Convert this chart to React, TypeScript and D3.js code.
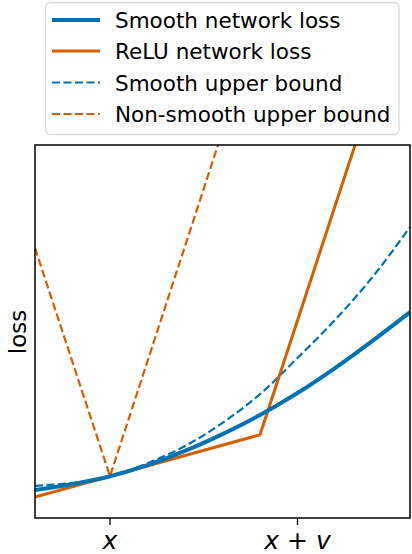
import React from "react";
import * as d3 from "d3";

// x positions (0 = x, 1 = x + v)
const tGrid = [-0.4, 0, 0.2, 0.4, 0.6, 0.8, 1.0, 1.2, 1.4, 1.6];
const smoothLoss = [0.075, 0.112, 0.142, 0.18, 0.225, 0.276, 0.335, 0.402, 0.475, 0.552];
const smoothBound = [0.086, 0.112, 0.147, 0.193, 0.255, 0.332, 0.429, 0.531, 0.646, 0.78];
const reluX = [-0.4, 0.8, 1.307];
const reluLoss = [0.056, 0.223, 1.0];
const nsBoundX = [-0.4, 0, 0.576];
const nsBoundLoss = [0.724, 0.112, 1.0];
const tickValues = [0, 1];
const tickLabels = [["x"], ["x", " + ", "v"]];
const legendLabels = [
  "Smooth network loss",
  "ReLU network loss",
  "Smooth upper bound",
  "Non-smooth upper bound",
];

const BLUE = "#0072B2";
const ORANGE = "#D55E00";

export default function App() {
  const W = 412, H = 554;
  const left = 35, right = 410, top = 145, bottom = 518;
  const x = d3.scaleLinear().domain([-0.4, 1.6]).range([left, right]);
  const y = d3.scaleLinear().domain([0, 1]).range([bottom, top]);
  const smoothLine = d3.line<number>().x((_, i) => x(tGrid[i])).y((d) => y(d)).curve(d3.curveMonotoneX);
  const polyLine = (xs: number[]) => d3.line<number>().x((_, i) => x(xs[i])).y((d) => y(d));

  const series = [
    { d: smoothLine(smoothLoss), color: BLUE, w: 4, dash: undefined },
    { d: polyLine(reluX)(reluLoss), color: ORANGE, w: 3, dash: undefined },
    { d: smoothLine(smoothBound), color: BLUE, w: 2.2, dash: "8,3.5" },
    { d: polyLine(nsBoundX)(nsBoundLoss), color: ORANGE, w: 2.2, dash: "8,3.5" },
  ];
  const drawOrder = [2, 3, 1, 0];
  const font = "DejaVu Sans, sans-serif";
  const rowY = [20, 51, 82.5, 114];

  return (
    <svg width={W} height={H} style={{ position: "absolute", left: 0, top: 0 }}>
      <defs>
        <clipPath id="plotclip">
          <rect x={left} y={top} width={right - left} height={bottom - top} />
        </clipPath>
      </defs>
      <rect x={0} y={0} width={W} height={H} fill="#fff" />
      <g clipPath="url(#plotclip)">
        {drawOrder.map((i) => (
          <path
            key={i}
            d={series[i].d || ""}
            fill="none"
            stroke={series[i].color}
            strokeWidth={series[i].w}
            strokeDasharray={series[i].dash}
            strokeLinejoin="round"
          />
        ))}
      </g>
      <rect x={left} y={top} width={right - left} height={bottom - top} fill="none" stroke="#000" strokeWidth={1.5} />
      {tickValues.map((t, i) => (
        <g key={i}>
          <line x1={x(t)} x2={x(t)} y1={bottom} y2={bottom + 7} stroke="#000" strokeWidth={1.3} />
          <text x={x(t)} y={549} textAnchor="middle" fontFamily={font} fontSize={25} xmlSpace="preserve">
            {tickLabels[i].map((p, j) => (
              <tspan key={j} fontStyle={p.trim() === "+" ? "normal" : "italic"}>
                {p}
              </tspan>
            ))}
          </text>
        </g>
      ))}
      <text
        transform={`translate(26, 332) rotate(-90)`}
        textAnchor="middle"
        fontFamily={font}
        fontSize={23}
      >
        loss
      </text>
      <rect x={45.5} y={2.5} width={353.5} height={132} rx={5} fill="#fff" fillOpacity={0.8} stroke="#d9d9d9" strokeWidth={1.3} />
      {legendLabels.map((lab, i) => {
        const s = series[i];
        return (
          <g key={i}>
            <line x1={52} x2={100} y1={rowY[i]} y2={rowY[i]} stroke={s.color} strokeWidth={s.w} strokeDasharray={s.dash} />
            <text x={115} y={rowY[i] + 8} fontFamily={font} fontSize={21.5} fill="#000">
              {lab}
            </text>
          </g>
        );
      })}
    </svg>
  );
}
